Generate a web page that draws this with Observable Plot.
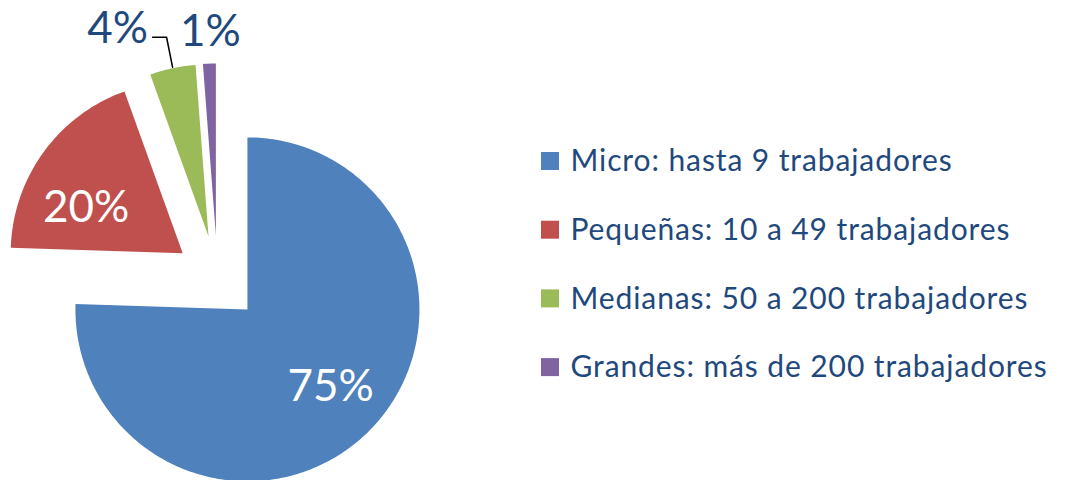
<!DOCTYPE html>
<html><head><meta charset="utf-8">
<script src="https://cdn.jsdelivr.net/npm/d3@7"></script>
<script src="https://cdn.jsdelivr.net/npm/@observablehq/plot@0.6"></script>
<style>body{margin:0;background:#fff;overflow:hidden}</style>
</head><body><div id="chart"></div>
<script>
// ---- data ----
const categories = ["Micro: hasta 9 trabajadores", "Pequeñas: 10 a 49 trabajadores", "Medianas: 50 a 200 trabajadores", "Grandes: más de 200 trabajadores"];
const values = [75.5, 19.0, 4.3, 1.2];
const labels = ["75%", "20%", "4%", "1%"];
const colors = ["#4F81BD", "#C0504D", "#9BBB59", "#8064A2"];

// ---- layout ----
const W = 1083, H = 480;
const center = [217, 278], radius = 172, explode = 43;
const textColor = "#1F497D";
const font = "Lato, 'Open Sans', sans-serif";
// label placement: inside (fraction of radius, angle nudge in deg) or outside (dx, dy from outer arc midpoint)
const labelLayout = [
  {inside: true, f: 0.66, nudge: -3},
  {inside: true, f: 0.62, nudge: -11},
  {inside: false, dx: -55, dy: -39, leader: true},
  {inside: false, dx: 1, dy: -32, leader: false}
];
const legendX = 541, legendY0 = 161, legendStep = 68.7, sw = 18;

const arcs = d3.pie().sort(null).value(d => d)(values);
const slices = arcs.map((a, i) => {
  const mid = (a.startAngle + a.endAngle) / 2;
  const cx = center[0] + explode * Math.sin(mid);
  const cy = center[1] - explode * Math.cos(mid);
  const n = Math.max(4, Math.ceil((a.endAngle - a.startAngle) * 60));
  const pts = [{x: cx, y: cy}];
  for (let k = 0; k <= n; k++) {
    const t = a.startAngle + (a.endAngle - a.startAngle) * k / n;
    pts.push({x: cx + radius * Math.sin(t), y: cy - radius * Math.cos(t)});
  }
  pts.push({x: cx, y: cy});
  return {i, mid, cx, cy, pts};
});

const labelData = slices.map(s => {
  const L = labelLayout[s.i];
  if (L.inside) {
    const ang = s.mid + L.nudge * Math.PI / 180;
    return {text: labels[s.i], x: s.cx + L.f * radius * Math.sin(ang), y: s.cy - L.f * radius * Math.cos(ang), fill: "white"};
  }
  const ox = s.cx + radius * Math.sin(s.mid), oy = s.cy - radius * Math.cos(s.mid);
  return {text: labels[s.i], x: ox + L.dx, y: oy + L.dy, fill: textColor, ox, oy, leader: L.leader, L};
});

const leaders = labelData.filter(d => d.leader).map(d => [
  {x: d.ox, y: d.oy - 1},
  {x: d.ox - 6, y: d.y + 8},
  {x: d.x + 35, y: d.y + 8}
]);

const legend = categories.map((c, i) => ({c, color: colors[i], y: legendY0 + i * legendStep}));

const marks = [
  ...slices.map(s => Plot.line(s.pts, {x: "x", y: "y", fill: colors[s.i], stroke: "none", curve: "linear"})),
  ...leaders.map(l => Plot.line(l, {x: "x", y: "y", stroke: "black", strokeWidth: 1.5, fill: "none"})),
  Plot.text(labelData, {x: "x", y: "y", text: "text", fill: d => d.fill, fontSize: 44, fontFamily: font}),
  Plot.rect(legend, {x1: legendX, x2: legendX + sw, y1: d => d.y - sw / 2, y2: d => d.y + sw / 2, fill: "color"}),
  Plot.text(legend, {x: legendX + 29, y: "y", text: "c", textAnchor: "start", fill: textColor, fontSize: 30, fontFamily: font, style: "letter-spacing: 0.9px"})
];

const chart = Plot.plot({
  width: W, height: H, margin: 0,
  x: {type: "identity", axis: null},
  y: {type: "identity", axis: null},
  color: {type: "identity"},
  style: {background: "white", fontFamily: font},
  marks
});
chart.querySelectorAll("text").forEach(t => { if (t.textContent.includes("trabajadores")) t.style.letterSpacing = "0.9px"; });
document.getElementById("chart").appendChild(chart);
</script>
</body></html>
